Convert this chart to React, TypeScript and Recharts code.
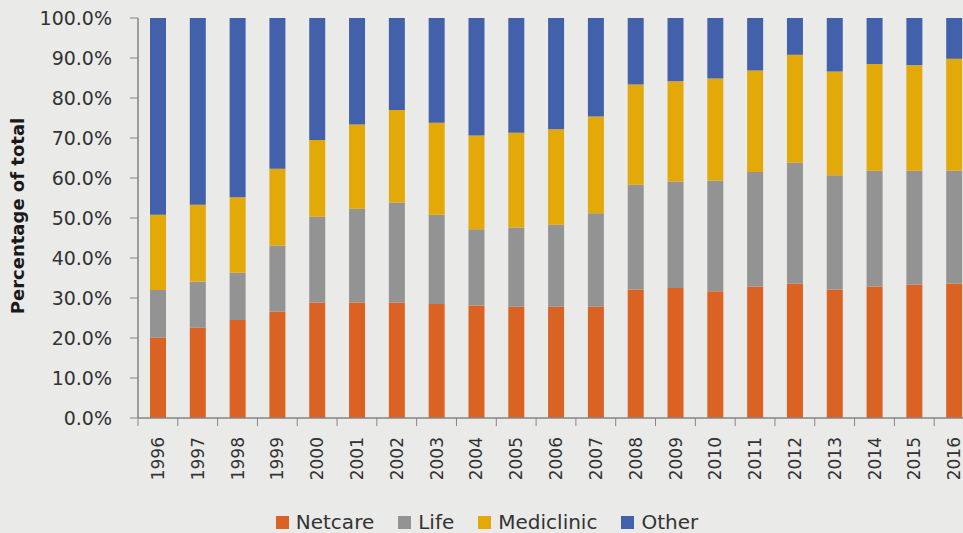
import React from 'react';
import { BarChart, Bar, XAxis, YAxis, Legend } from 'recharts';

const years = ['1996', '1997', '1998', '1999', '2000', '2001', '2002', '2003', '2004', '2005', '2006', '2007', '2008', '2009', '2010', '2011', '2012', '2013', '2014', '2015', '2016'];
const netcare = [20.1, 22.6, 24.5, 26.6, 28.9, 28.9, 28.9, 28.5, 28.1, 27.8, 27.8, 27.8, 32.1, 32.5, 31.7, 32.9, 33.6, 32.1, 32.9, 33.3, 33.6];
const life = [11.9, 11.5, 11.8, 16.5, 21.4, 23.4, 25.0, 22.3, 19.1, 19.8, 20.5, 23.4, 26.2, 26.6, 27.7, 28.6, 30.2, 28.6, 28.9, 28.5, 28.3];
const mediclinic = [18.8, 19.2, 18.9, 19.2, 19.2, 21.1, 23.1, 23.0, 23.4, 23.7, 23.9, 24.2, 25.1, 25.1, 25.5, 25.4, 27.0, 25.9, 26.7, 26.4, 27.9];
const other = [49.2, 46.7, 44.8, 37.7, 30.5, 26.6, 23.0, 26.2, 29.4, 28.7, 27.8, 24.6, 16.6, 15.8, 15.1, 13.1, 9.2, 13.4, 11.5, 11.8, 10.2];
const yTicks = [0, 10, 20, 30, 40, 50, 60, 70, 80, 90, 100];

const seriesNames = ['Netcare', 'Life', 'Mediclinic', 'Other'];
const seriesColors = ['#DA6223', '#939393', '#E3A908', '#4361AB'];

const data = years.map((y, i) => ({
  year: y,
  Netcare: netcare[i],
  Life: life[i],
  Mediclinic: mediclinic[i],
  Other: other[i],
}));

const CHART_W = 974;
const CHART_H = 533;
const Y_AXIS_W = 138;
const BAND = (CHART_W - Y_AXIS_W) / years.length;
const AXIS_COLOR = '#858585';
const FONT = '"DejaVu Sans", sans-serif';

const XTick = (props: any) => {
  const { x, y, payload } = props;
  const bx = x - BAND / 2;
  return (
    <g>
      <line x1={bx} y1={y} x2={bx} y2={y + 8} stroke={AXIS_COLOR} strokeWidth={1} />
      <text
        x={x}
        y={y + 19}
        transform={`rotate(-90, ${x}, ${y + 19})`}
        textAnchor="end"
        dy="0.36em"
        fontFamily={FONT}
        fontSize={17}
        fill="#333"
      >
        {payload.value}
      </text>
    </g>
  );
};

const renderLegend = () => (
  <div style={{ display: 'flex', justifyContent: 'center', paddingTop: 9, fontFamily: FONT, fontSize: 20, color: '#333' }}>
    {seriesNames.map((name, i) => (
      <div key={name} style={{ display: 'flex', alignItems: 'center', marginRight: i < seriesNames.length - 1 ? 24 : 0 }}>
        <span style={{ display: 'inline-block', width: 13, height: 13, background: seriesColors[i], marginRight: 7 }} />
        <span style={{ lineHeight: '20px' }}>{name}</span>
      </div>
    ))}
  </div>
);

const YTitle = () => (
  <text
    x={17}
    y={216}
    transform="rotate(-90, 17, 216)"
    textAnchor="middle"
    dominantBaseline="central"
    fontFamily={FONT}
    fontWeight="bold"
    fontSize={18}
    fill="#1a1a1a"
  >
    Percentage of total
  </text>
);

export default function App() {
  return (
    <div style={{ position: 'absolute', left: 0, top: 0, width: 963, height: 533, overflow: 'hidden', background: '#EAEAE8' }}>
      <BarChart
        width={CHART_W}
        height={CHART_H}
        data={data}
        margin={{ top: 18, right: 0, bottom: 0, left: 0 }}
        barSize={16}
      >
        <XAxis
          dataKey="year"
          interval={0}
          height={85}
          tickLine={false}
          tickSize={0}
          tickMargin={0}
          axisLine={{ stroke: AXIS_COLOR, strokeWidth: 1.5 }}
          tick={<XTick />}
        />
        <YAxis
          width={Y_AXIS_W}
          domain={[0, 100]}
          ticks={yTicks}
          tickFormatter={(v: number) => `${v.toFixed(1)}%`}
          axisLine={{ stroke: AXIS_COLOR, strokeWidth: 1.5 }}
          tickLine={{ stroke: AXIS_COLOR }}
          tickSize={8}
          tickMargin={18}
          tick={{ fontFamily: FONT, fontSize: 19, fill: '#333' }}
          label={<YTitle />}
        />
        <Legend verticalAlign="bottom" height={30} content={renderLegend} />
        {seriesNames.map((name, i) => (
          <Bar key={name} dataKey={name} stackId="a" fill={seriesColors[i]} isAnimationActive={false} />
        ))}
      </BarChart>
    </div>
  );
}
